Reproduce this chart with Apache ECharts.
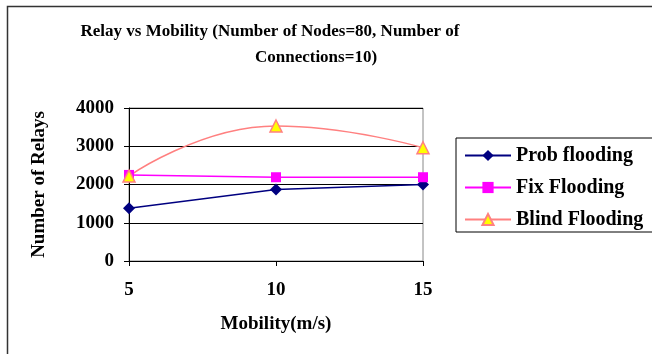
<!DOCTYPE html>
<html><head><meta charset="utf-8">
<style>html,body{margin:0;padding:0;background:#fff}#c{width:652px;height:354px}</style>
<script src="https://cdn.jsdelivr.net/npm/echarts@6/dist/echarts.min.js"></script>
</head><body><div id="c"></div>
<script>
const categories = ['5', '10', '15'];
const probFlooding = [1380, 1870, 2000];
const fixFlooding = [2250, 2190, 2190];
const blindFlooding = [2220, 3530, 2960];
const yTicks = [0, 1000, 2000, 3000, 4000];
const titleLines = ['Relay vs Mobility (Number of Nodes=80, Number of', 'Connections=10)'];

const font = '"Liberation Serif", "Times New Roman", serif';
const chart = echarts.init(document.getElementById('c'), null, {renderer: 'canvas'});
const tStyle = {fontFamily: font, fontWeight: 'bold', fontSize: 17, color: '#000'};
chart.setOption({
  animation: false,
  backgroundColor: '#fff',
  textStyle: {fontFamily: font},
  title: [
    {text: titleLines[0], left: 270, top: 23, textAlign: 'center', padding: 0, textStyle: tStyle},
    {text: titleLines[1], left: 316, top: 49, textAlign: 'center', padding: 0, textStyle: tStyle}
  ],
  graphic: [{
    type: 'rect', left: 5, top: 4, shape: {x: 0, y: 0, width: 700, height: 400},
    style: {fill: 'none', stroke: '#333', lineWidth: 1.5}, silent: true, z: -1
  }],
  grid: {left: 129, top: 108, width: 294, height: 153, show: true, borderColor: '#888', borderWidth: 1},
  legend: {
    orient: 'vertical', left: 456, top: 138,
    padding: [7, 12, 2, 8], itemGap: 11, itemWidth: 46, itemHeight: 14, itemTextGap: 5,
    borderColor: '#000', borderWidth: 1, backgroundColor: '#fff',
    textStyle: {fontFamily: font, fontWeight: 'bold', fontSize: 20, color: '#000', lineHeight: 21},
    data: ['Prob flooding', 'Fix Flooding', 'Blind Flooding']
  },
  xAxis: {
    type: 'category', data: categories, boundaryGap: false,
    axisLine: {lineStyle: {color: '#000'}},
    axisTick: {show: true, alignWithLabel: true, length: 5, lineStyle: {color: '#000'}},
    axisLabel: {fontFamily: font, fontWeight: 'bold', fontSize: 19, color: '#000', margin: 20},
    name: 'Mobility(m/s)', nameLocation: 'middle', nameGap: 54,
    nameTextStyle: {fontFamily: font, fontWeight: 'bold', fontSize: 19, color: '#000'},
    splitLine: {show: false}
  },
  yAxis: {
    type: 'value', min: yTicks[0], max: yTicks[yTicks.length - 1], interval: 1000,
    axisLine: {show: true, lineStyle: {color: '#000'}},
    axisTick: {show: true, length: 5, lineStyle: {color: '#000'}},
    axisLabel: {fontFamily: font, fontWeight: 'bold', fontSize: 19, color: '#000', margin: 15,
      formatter: v => String(v)},
    splitLine: {show: true, lineStyle: {color: '#000', width: 1}},
    name: 'Number of Relays', nameLocation: 'middle', nameGap: 80, nameRotate: 90,
    nameTextStyle: {fontFamily: font, fontWeight: 'bold', fontSize: 19, color: '#000'}
  },
  series: [
    {name: 'Prob flooding', type: 'line', data: probFlooding, symbol: 'diamond', symbolSize: 12,
     lineStyle: {color: '#000080', width: 1.5}, itemStyle: {color: '#000080'}},
    {name: 'Fix Flooding', type: 'line', data: fixFlooding, symbol: 'rect', symbolSize: 10,
     lineStyle: {color: '#FF00FF', width: 1.5}, itemStyle: {color: '#FF00FF'}},
    {name: 'Blind Flooding', type: 'line', data: blindFlooding, smooth: 0.5, symbol: 'triangle', symbolSize: 12,
     lineStyle: {color: '#FF8080', width: 1.5}, itemStyle: {color: '#FFFF00', borderColor: '#FF8080', borderWidth: 1.5}}
  ]
});
</script></body></html>
